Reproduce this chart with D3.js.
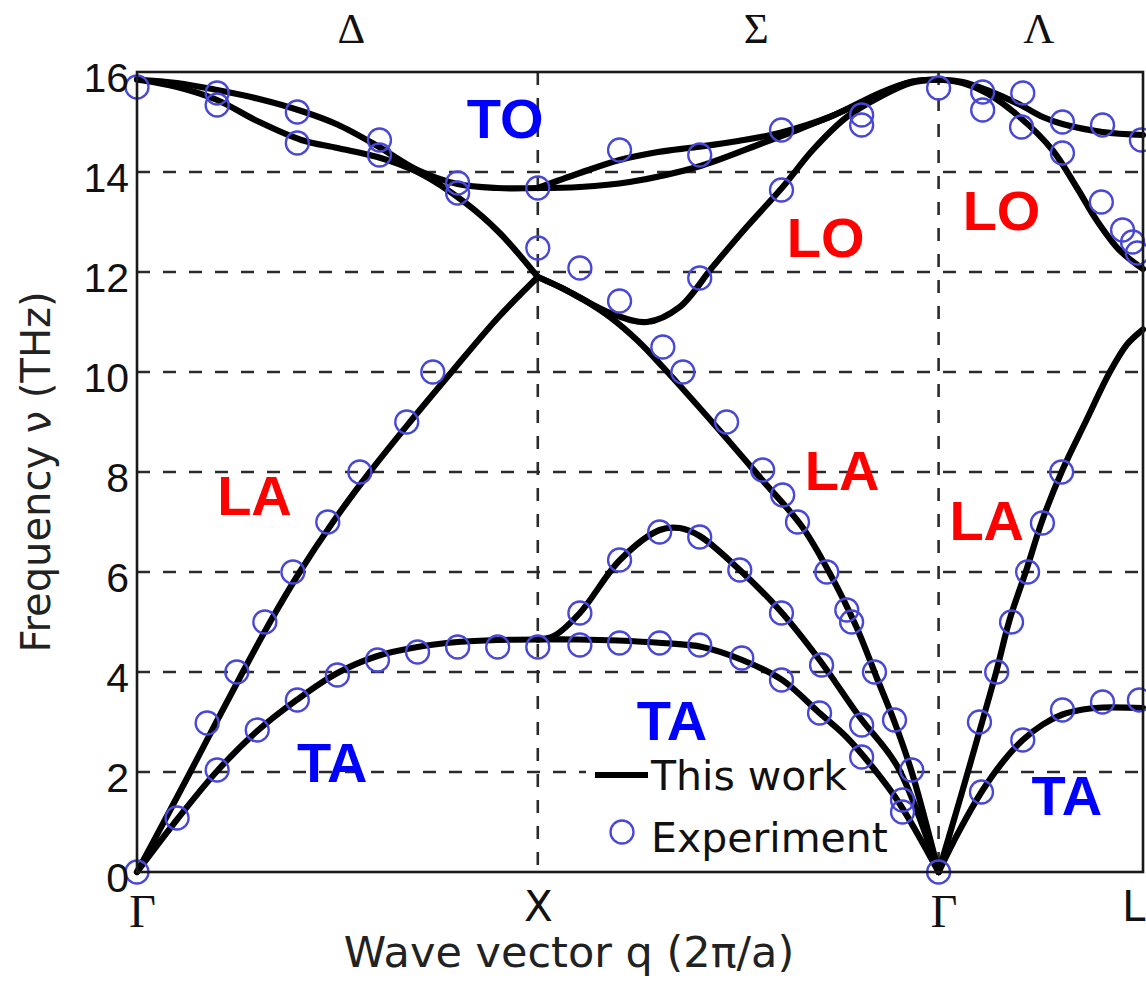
<!DOCTYPE html>
<html>
<head>
<meta charset="utf-8">
<script src="https://cdn.jsdelivr.net/npm/d3@7"></script>
<style>
  html, body { margin: 0; padding: 0; background: #fff; }
  svg { display: block; }
</style>
</head>
<body>
<svg id="chart" width="1146" height="981"></svg>
<script>
// Path coordinate along the Brillouin-zone route: Γ = 0, X = 1, Γ = 2, L = 2.51
const pathPoints = [
  { q: 0,    label: "Γ" },
  { q: 1,    label: "X" },
  { q: 2,    label: "Γ" },
  { q: 2.51, label: "L" }
];
const directionLabels = [
  { q: 0.535, label: "Δ" },
  { q: 1.545, label: "Σ" },
  { q: 2.25,  label: "Λ" }
];
const freqTicks = [0, 2, 4, 6, 8, 10, 12, 14, 16];

// Calculated branches ("This work"), [q, frequency in THz]
// Γ → X (Δ)
const taGX = [[0,0],[0.1,1.05],[0.2,2.02],[0.3,2.82],[0.4,3.45],[0.5,3.98],[0.6,4.32],[0.7,4.5],[0.8,4.6],[0.9,4.64],[1,4.65]];
const laGX = [[0,0],[0.067,1.0],[0.133,2.0],[0.198,3.0],[0.264,4.0],[0.332,5.0],[0.406,6.0],[0.489,7.0],[0.581,8.0],[0.681,9.0],[0.785,10.0],[0.9,11.08],[1,11.9]];
const toGX = [[0,15.85],[0.1,15.78],[0.2,15.64],[0.3,15.47],[0.41,15.22],[0.5,14.95],[0.6,14.52],[0.7,14.04],[0.8,13.76],[0.9,13.68],[1,13.68]];
const loGX = [[0,15.85],[0.1,15.7],[0.2,15.44],[0.3,15.02],[0.41,14.64],[0.5,14.48],[0.6,14.3],[0.7,14.0],[0.82,13.38],[0.905,12.78],[1,11.9]];
// X → Γ (Σ)
const ta1XG = [[1,4.65],[1.1,4.65],[1.2,4.63],[1.31,4.58],[1.41,4.5],[1.51,4.24],[1.61,3.84],[1.7,3.2],[1.77,2.7],[1.835,2.1],[1.9,1.4],[2,0]];
const ta2XG = [[1,4.65],[1.04,4.72],[1.105,5.18],[1.205,6.24],[1.304,6.84],[1.354,6.88],[1.404,6.72],[1.504,6.04],[1.603,5.24],[1.703,4.24],[1.803,3.1],[1.898,2.1],[2,0]];
const laXG = [[1,11.9],[1.06,11.68],[1.12,11.42],[1.18,11.1],[1.25,10.62],[1.312,10.1],[1.446,8.9],[1.56,7.84],[1.66,6.9],[1.728,5.98],[1.795,4.9],[1.845,3.9],[1.89,3.0],[1.933,2.0],[2,0]];
const loXG = [[1,11.9],[1.06,11.68],[1.12,11.42],[1.187,11.16],[1.272,11.0],[1.354,11.3],[1.436,12.1],[1.521,12.9],[1.611,13.7],[1.686,14.44],[1.771,15.1],[1.853,15.5],[1.93,15.78],[2,15.85]];
const to1XG = [[1,13.68],[1.105,13.98],[1.204,14.24],[1.3,14.4],[1.397,14.5],[1.5,14.62],[1.603,14.78],[1.728,15.1],[1.853,15.58],[1.93,15.8],[2,15.85]];
const to2XG = [[1,13.68],[1.105,13.7],[1.229,13.8],[1.397,14.1],[1.561,14.58],[1.65,14.85],[1.728,15.1],[1.853,15.55],[1.93,15.8],[2,15.85]];
// Γ → L (Λ)
const taGL = [[2,0],[2.05,0.8],[2.107,1.6],[2.16,2.2],[2.21,2.64],[2.26,2.95],[2.309,3.15],[2.36,3.25],[2.409,3.29],[2.51,3.28]];
const laGL = [[2,0],[2.055,1.5],[2.11,3.04],[2.145,4.04],[2.177,5.04],[2.219,6.04],[2.259,7.04],[2.309,8.04],[2.369,9.04],[2.426,9.98],[2.47,10.55],[2.51,10.85]];
const loGL = [[2,15.85],[2.06,15.78],[2.12,15.58],[2.202,15.1],[2.284,14.44],[2.344,13.7],[2.394,13.04],[2.451,12.44],[2.51,12.06]];
const toGL = [[2,15.85],[2.06,15.8],[2.12,15.64],[2.202,15.35],[2.26,15.1],[2.309,14.96],[2.409,14.8],[2.51,14.74]];

const branches = [taGX, laGX, toGX, loGX, ta1XG, ta2XG, laXG, loXG, to1XG, to2XG, taGL, laGL, loGL, toGL];

// Measured points ("Experiment"), [q, frequency in THz]
const expGX = [
  [0,15.7],[0,0],[0.1,1.08],[0.175,2.98],[0.2,2.04],[0.2,15.58],[0.2,15.34],
  [0.249,4.0],[0.3,2.84],[0.319,5.0],[0.389,6.0],[0.4,3.44],[0.4,15.2],[0.4,14.58],
  [0.476,7.0],[0.5,3.94],[0.556,8.0],[0.6,4.24],[0.605,14.64],[0.605,14.34],
  [0.673,9.0],[0.7,4.4],[0.738,10.0],[0.8,4.5],[0.8,13.78],[0.8,13.58],[0.9,4.5],
  [1,4.5],[1,13.68],[1,12.48]
];
const expXG = [
  [1.105,4.54],[1.204,4.58],[1.304,4.58],[1.404,4.54],[1.509,4.28],[1.608,3.84],[1.703,3.18],[1.808,2.3],[1.91,1.44],[1.91,1.2],
  [1.105,5.18],[1.204,6.24],[1.304,6.8],[1.404,6.7],[1.504,6.04],[1.608,5.18],[1.708,4.14],[1.808,2.94],
  [1.204,11.42],[1.312,10.5],[1.362,10.0],[1.471,9.0],[1.561,8.04],[1.611,7.54],[1.648,7.0],[1.721,6.0],[1.771,5.24],[1.783,5.0],[1.84,4.0],[1.89,3.04],[1.933,2.04],
  [1.105,12.08],[1.404,11.88],[1.608,13.64],[1.808,15.14],[1.808,14.94],
  [1.204,14.44],[1.404,14.34],[1.608,14.84],
  [2,15.68],[2,0]
];
const expGL = [
  [2.11,15.6],[2.11,15.24],[2.21,15.58],[2.207,14.9],[2.309,15.0],[2.309,14.38],[2.409,14.94],
  [2.406,13.4],[2.459,12.84],[2.484,12.6],[2.496,12.38],[2.506,14.64],
  [2.102,3.0],[2.145,4.0],[2.182,5.0],[2.222,6.0],[2.259,6.98],[2.307,8.0],
  [2.107,1.6],[2.21,2.64],[2.309,3.24],[2.409,3.4],[2.501,3.44]
];
const experiment = expGX.concat(expXG, expGL);

// Branch name annotations, anchored at [q, frequency]
const modeNames = [
  { text: "TO", q: 0.823, v: 14.68, color: "#0000ff" },
  { text: "LO", q: 1.621, v: 12.3,  color: "#ff0000" },
  { text: "LO", q: 2.06,  v: 12.84, color: "#ff0000" },
  { text: "LA", q: 0.2,   v: 7.14,  color: "#ff0000" },
  { text: "LA", q: 1.666, v: 7.64,  color: "#ff0000" },
  { text: "LA", q: 2.027, v: 6.64,  color: "#ff0000" },
  { text: "TA", q: 0.399, v: 1.8,   color: "#0000ff" },
  { text: "TA", q: 1.247, v: 2.64,  color: "#0000ff" },
  { text: "TA", q: 2.232, v: 1.14,  color: "#0000ff" }
];

const svg = d3.select("#chart");
const W = 1146, H = 981;
const plot = { left: 137, right: 1143, top: 72, bottom: 872 };

const x = d3.scaleLinear().domain([0, 2.51]).range([plot.left, plot.right]);
const y = d3.scaleLinear().domain([0, 16]).range([plot.bottom, plot.top]);

svg.append("rect").attr("width", W).attr("height", H).attr("fill", "#fff");

const sansFont = "'DejaVu Sans', sans-serif";
const tickFont = "'Liberation Sans', Arial, sans-serif";
const serifFont = "'Liberation Serif', 'Times New Roman', serif";

// dashed grid
const grid = svg.append("g").attr("stroke", "#2b2b2b").attr("stroke-width", 2.6)
  .attr("stroke-dasharray", "13,13").attr("fill", "none");
grid.selectAll("line.h").data(freqTicks.filter(v => v > 0 && v < 16)).join("line")
  .attr("class", "h")
  .attr("x1", plot.left).attr("x2", plot.right)
  .attr("y1", d => y(d)).attr("y2", d => y(d));
grid.selectAll("line.v").data(pathPoints.filter(p => p.q > 0 && p.q < 2.51)).join("line")
  .attr("class", "v")
  .attr("x1", d => x(d.q)).attr("x2", d => x(d.q))
  .attr("y1", plot.top).attr("y2", plot.bottom);

// legend backing box
const legendBox = { x0: 586, x1: 856, y0: 753, y1: 866 };
svg.append("rect")
  .attr("x", legendBox.x0).attr("y", legendBox.y0)
  .attr("width", legendBox.x1 - legendBox.x0).attr("height", legendBox.y1 - legendBox.y0)
  .attr("fill", "#fff");

// calculated dispersion curves
const line = d3.line()
  .x(d => x(d[0])).y(d => y(d[1]))
  .curve(d3.curveCatmullRom.alpha(0.5));
svg.append("g").selectAll("path").data(branches).join("path")
  .attr("d", line)
  .attr("fill", "none")
  .attr("stroke", "#000")
  .attr("stroke-width", 6.2)
  .attr("stroke-linejoin", "round")
  .attr("stroke-linecap", "round");

// experimental points
svg.append("g").selectAll("circle").data(experiment).join("circle")
  .attr("cx", d => x(d[0])).attr("cy", d => y(d[1]))
  .attr("r", 11.5)
  .attr("fill", "none")
  .attr("stroke", "#4747d8")
  .attr("stroke-width", 2.3);

// frame
svg.append("rect")
  .attr("x", plot.left).attr("y", plot.top)
  .attr("width", plot.right - plot.left).attr("height", plot.bottom - plot.top)
  .attr("fill", "none").attr("stroke", "#1a1a1a").attr("stroke-width", 2.6);

// y axis labels
const yAxis = svg.append("g").attr("transform", `translate(${plot.left},0)`)
  .call(d3.axisLeft(y).tickValues(freqTicks).tickSize(0).tickPadding(8).tickFormat(d3.format("d")));
yAxis.select(".domain").remove();
yAxis.selectAll("text")
  .attr("dy", "0.48em")
  .attr("fill", "#111")
  .style("font-family", tickFont)
  .style("font-size", "41px");

// x axis labels (symmetry points)
const xAxis = svg.append("g").attr("transform", `translate(0,${plot.bottom})`)
  .call(d3.axisBottom(x).tickValues(pathPoints.map(p => p.q)).tickSize(0).tickPadding(0)
    .tickFormat((d, i) => pathPoints[i].label));
xAxis.select(".domain").remove();
xAxis.selectAll("text")
  .attr("fill", "#111")
  .attr("dy", null)
  .attr("y", (d, i) => pathPoints[i].label === "Γ" ? 55 : 49)
  .attr("dx", (d, i) => pathPoints[i].label === "Γ" ? 5 : 0)
  .attr("text-anchor", (d, i) => pathPoints[i].label === "L" ? "end" : "middle")
  .attr("x", (d, i) => pathPoints[i].label === "L" ? 2 : 0)
  .style("font-family", (d, i) => pathPoints[i].label === "Γ" ? serifFont : sansFont)
  .style("font-size", (d, i) => pathPoints[i].label === "Γ" ? "46px" : "42px");

// direction labels along the top
svg.append("g").selectAll("text").data(directionLabels).join("text")
  .attr("x", d => x(d.q)).attr("y", 43)
  .attr("text-anchor", "middle")
  .attr("fill", "#111")
  .style("font-family", serifFont)
  .style("font-size", "43px")
  .text(d => d.label);

// axis titles
svg.append("text")
  .attr("x", 569).attr("y", 967)
  .attr("text-anchor", "middle")
  .attr("fill", "#222")
  .style("font-family", sansFont)
  .style("font-size", "43px")
  .text("Wave vector q (2π/a)");
svg.append("text")
  .attr("transform", `translate(50,${(plot.top + plot.bottom) / 2}) rotate(-90)`)
  .attr("text-anchor", "middle")
  .attr("fill", "#222")
  .style("font-family", sansFont)
  .style("font-size", "40px")
  .text("Frequency ν (THz)");

// branch names
svg.append("g").selectAll("text").data(modeNames).join("text")
  .attr("x", d => x(d.q)).attr("y", d => y(d.v))
  .attr("fill", d => d.color)
  .style("font-family", "'Liberation Sans', Arial, sans-serif")
  .style("font-weight", "bold")
  .style("font-size", "56px")
  .text(d => d.text);

// legend
const lg = svg.append("g");
lg.append("line")
  .attr("x1", 595).attr("x2", 648).attr("y1", 775).attr("y2", 775)
  .attr("stroke", "#000").attr("stroke-width", 6);
lg.append("text").attr("x", 651).attr("y", 790)
  .attr("fill", "#111")
  .style("font-family", sansFont).style("font-size", "41px")
  .text("This work");
lg.append("circle").attr("cx", 622).attr("cy", 832).attr("r", 11.5)
  .attr("fill", "none").attr("stroke", "#4747d8").attr("stroke-width", 2.3);
lg.append("text").attr("x", 651).attr("y", 852)
  .attr("fill", "#111")
  .style("font-family", sansFont).style("font-size", "41px")
  .text("Experiment");
</script>
</body>
</html>
